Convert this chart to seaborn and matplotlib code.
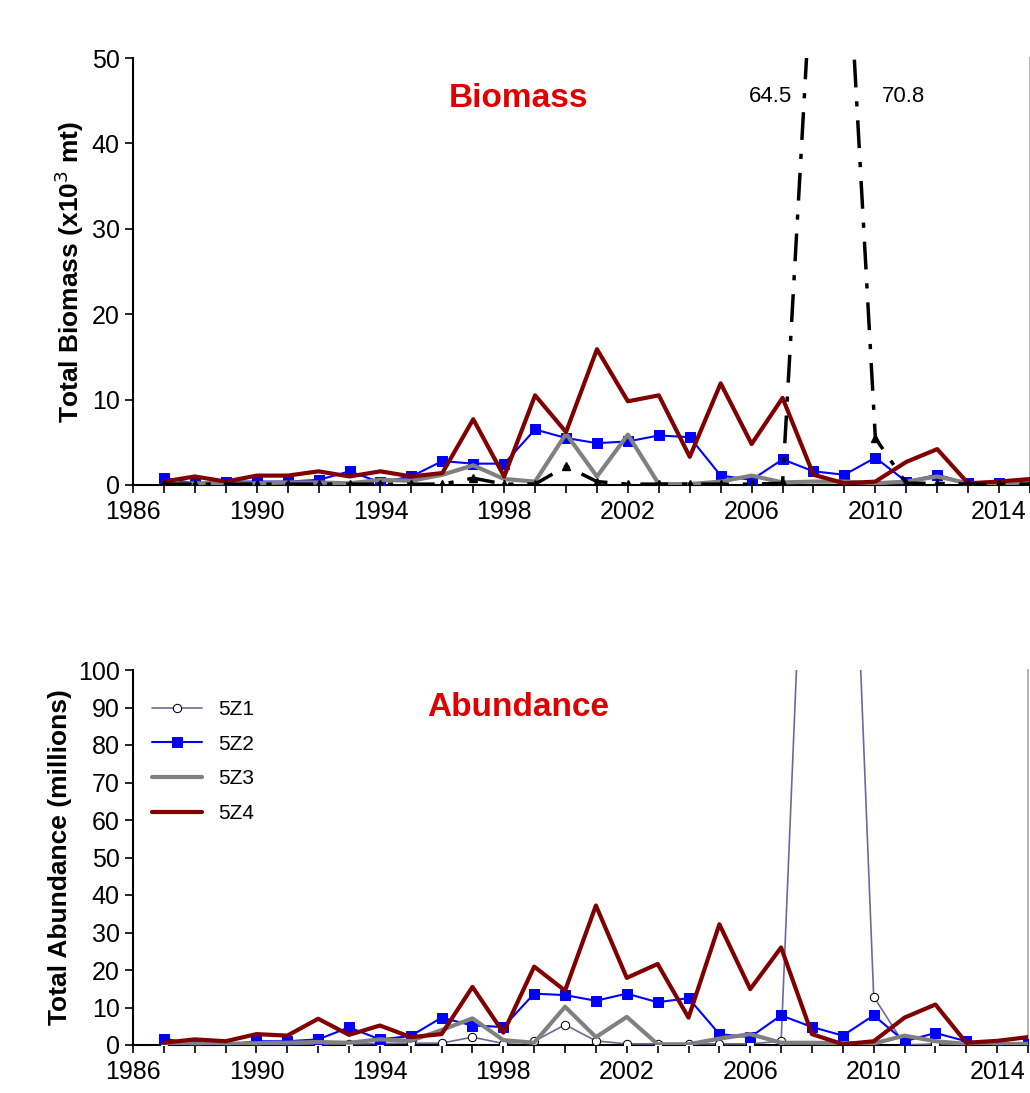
import numpy as np
import pandas as pd
import matplotlib
matplotlib.use("Agg")
import matplotlib.pyplot as plt
import seaborn as sns
from matplotlib.ticker import MultipleLocator

sns.set_theme(style="white")
plt.rcParams['font.family'] = ['Liberation Sans', 'DejaVu Sans']
plt.rcParams['text.color'] = 'black'
plt.rcParams['axes.labelcolor'] = 'black'
plt.rcParams['xtick.color'] = 'black'
plt.rcParams['ytick.color'] = 'black'

years = list(range(1987, 2016))
bio_5z1 = [0.1,0.1,0.1,0.1,0.1,0.1,0.1,0.1,0.1,0.1,0.8,0.1,0.1,2.2,0.4,0.1,0.1,0.1,0.1,0.1,0.2,64.5,70.8,5.5,0.2,0.2,0.1,0.1,0.1]
bio_5z2 = [0.8,0.2,0.4,0.4,0.4,0.6,1.6,0.3,1.0,2.8,2.5,2.5,6.5,5.5,4.9,5.1,5.8,5.6,1.1,0.6,3.0,1.6,1.2,3.2,0.4,1.2,0.2,0.2,0.2]
bio_5z3 = [0.1,0.2,0.2,0.2,0.3,0.3,0.2,0.6,0.5,1.2,2.3,0.7,0.4,6.0,1.0,5.9,0.1,0.1,0.4,1.1,0.3,0.4,0.4,0.2,0.4,1.0,0.2,0.2,0.3]
bio_5z4 = [0.4,1.0,0.4,1.1,1.1,1.6,1.0,1.6,1.0,1.4,7.7,1.0,10.5,6.2,15.9,9.8,10.5,3.3,11.9,4.8,10.2,1.2,0.2,0.4,2.7,4.2,0.2,0.4,0.7]
abu_5z1 = [0.2,0.2,0.2,0.2,0.2,0.3,0.3,0.4,0.5,0.5,2.1,0.4,1.0,5.4,1.1,0.3,0.3,0.3,0.3,0.3,1.0,200.0,220.0,12.9,0.0,0.3,0.2,0.2,0.2]
abu_5z2 = [1.7,0.2,0.0,1.0,1.0,1.5,4.7,1.5,2.4,7.3,5.2,4.8,13.7,13.3,11.8,13.7,11.4,12.5,2.9,2.1,7.9,4.8,2.5,7.9,1.0,3.2,1.0,0.0,0.3]
abu_5z3 = [0.3,0.3,0.3,0.5,0.6,0.8,0.6,1.5,1.1,4.0,7.1,1.3,0.6,10.2,2.1,7.5,0.2,0.2,1.7,2.9,0.6,0.6,0.5,0.4,2.5,1.0,0.3,0.3,0.3]
abu_5z4 = [0.6,1.5,1.0,2.9,2.5,7.0,2.7,5.2,2.1,2.9,15.5,3.3,20.9,14.5,37.2,17.9,21.6,7.3,32.2,14.9,26.0,2.9,0.2,1.0,7.3,10.8,0.6,1.1,2.1]
series_names = ["5Z1", "5Z2", "5Z3", "5Z4"]
xticks = [1986, 1990, 1994, 1998, 2002, 2006, 2010, 2014]

fig = plt.figure(figsize=(10.3, 10.93), dpi=100)
ax1 = fig.add_axes([133/1030, 1-485/1093, 897/1030, 427/1093])
ax2 = fig.add_axes([133/1030, 1-1045/1093, 895/1030, 375/1093])

def draw(ax, vals, top_style):
    s1, s2, s3, s4 = vals
    if top_style:
        ax.plot(years, s1, color="black", lw=2.5, ls=(0, (8, 4, 1.5, 4)), marker="^", ms=6, zorder=5, label=series_names[0])
    else:
        sns.lineplot(x=years, y=s1, ax=ax, color="#6a6a9a", lw=1.2, marker="o", ms=6,
                     markerfacecolor="white", markeredgecolor="black", label=series_names[0], zorder=3)
    sns.lineplot(x=years, y=s2, ax=ax, color="#0000ff", lw=1.5, marker="s", ms=7,
                 markeredgecolor="#0000ff", label=series_names[1], zorder=4)
    sns.lineplot(x=years, y=s3, ax=ax, color="#808080", lw=3, label=series_names[2], zorder=4)
    sns.lineplot(x=years, y=s4, ax=ax, color="#800000", lw=3, label=series_names[3], zorder=4)
    ax.set_xlim(1986, 2015)
    ax.set_xticks(xticks)
    ax.xaxis.set_minor_locator(MultipleLocator(1))
    ax.tick_params(axis="x", which="both", direction="out", length=6, width=1.2, bottom=True, labelsize=18)
    ax.tick_params(axis="y", direction="out", length=6, width=1.2, left=True, labelsize=18)
    ax.tick_params(axis="x", pad=5)
    for sp in ["left", "bottom"]:
        ax.spines[sp].set_color("black"); ax.spines[sp].set_linewidth(1.5)
    ax.spines["top"].set_visible(False)
    ax.spines["right"].set_color("#aaaaaa")
    ax.set_xlabel("")

draw(ax1, (bio_5z1, bio_5z2, bio_5z3, bio_5z4), True)
ax1.set_ylim(0, 50)
ax1.set_yticks(range(0, 51, 10))
ax1.set_ylabel("Total Biomass (x10$^{3}$ mt)", fontsize=19, fontweight="bold")
ax1.legend().remove()
ax1.text(0.43, 0.905, "Biomass", transform=ax1.transAxes, color="#e00000", fontsize=24, fontweight="bold", ha="center", va="center")
ax1.text(2006.6, 45.5, "64.5", fontsize=16, ha="center", va="center")
ax1.text(2010.9, 45.5, "70.8", fontsize=16, ha="center", va="center")

draw(ax2, (abu_5z1, abu_5z2, abu_5z3, abu_5z4), False)
ax2.set_ylim(0, 100)
ax2.set_yticks(range(0, 101, 10))
ax2.set_ylabel("Total Abundance (millions)", fontsize=19, fontweight="bold")
ax2.text(0.43, 0.9, "Abundance", transform=ax2.transAxes, color="#e00000", fontsize=24, fontweight="bold", ha="center", va="center")
ax2.legend(loc="upper left", frameon=False, fontsize=15, handlelength=2.4, labelspacing=0.75,
           bbox_to_anchor=(0.0, 0.97))

fig.savefig("out.png", dpi=100)
